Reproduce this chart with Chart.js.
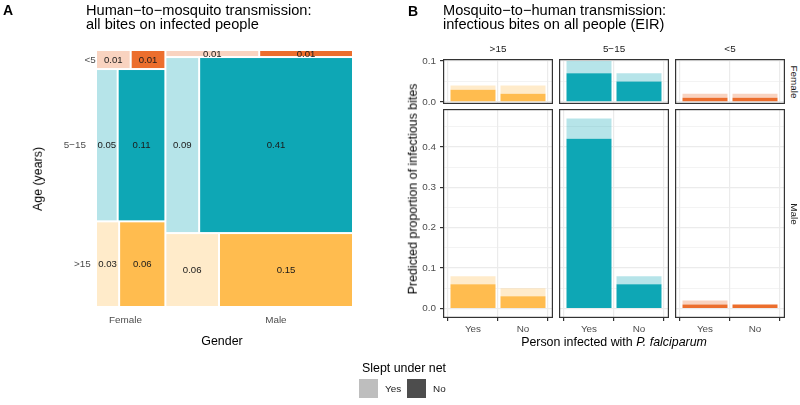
<!DOCTYPE html>
<html><head><meta charset="utf-8">
<script src="https://cdn.jsdelivr.net/npm/chart.js@4"></script>
<style>
html,body{margin:0;padding:0;background:#fff;}
#root{position:relative;width:800px;height:405px;overflow:hidden;font-family:"Liberation Sans",Arial,Helvetica,sans-serif;background:#fff;}
canvas{position:absolute;}
.t{position:absolute;white-space:nowrap;line-height:1;}
</style></head><body><div id="root"></div>
<script>
// ---------------- Data ----------------
// Panel A: share of all bites on infected people (gender x age x slept under net)
const genders = ['Female', 'Male'];
const agesA = ['<5', '5\u221215', '>15'];           // top to bottom
const femaleNetYes = [0.01, 0.05, 0.03];
const femaleNetNo  = [0.01, 0.11, 0.06];
const maleNetYes   = [0.01, 0.09, 0.06];
const maleNetNo    = [0.01, 0.41, 0.15];

// Panel B: predicted proportion of infectious bites (EIR)
const sexRows = ['Female', 'Male'];
const agesB = ['>15', '5\u221215', '<5'];
const infectedCats = ['Yes', 'No'];
// [age][infected]
const femaleNoNetB  = [[0.03, 0.02], [0.07, 0.05], [0.01, 0.01]];
const femaleYesNetB = [[0.01, 0.02], [0.03, 0.02], [0.01, 0.01]];
const maleNoNetB    = [[0.06, 0.03], [0.42, 0.06], [0.01, 0.01]];
const maleYesNetB   = [[0.02, 0.02], [0.05, 0.02], [0.01, 0.00]];

// ---------------- Styles ----------------
const FONT = '"Liberation Sans", Arial, Helvetica, sans-serif';
Chart.defaults.font.family = FONT;
const darkCol  = {'>15': '#FFBC4F', '5\u221215': '#0EA7B5', '<5': '#EC6E2D'};
const lightCol = {'>15': 'rgba(255,188,79,0.3)', '5\u221215': 'rgba(14,167,181,0.3)', '<5': 'rgba(236,110,45,0.3)'};
const root = document.getElementById('root');

function mkCanvas(x, y, w, h) {
  const c = document.createElement('canvas');
  c.width = w; c.height = h;
  c.style.left = x + 'px'; c.style.top = y + 'px';
  c.style.width = w + 'px'; c.style.height = h + 'px';
  root.appendChild(c);
  return c;
}
function txt(s, x, y, o) {
  o = o || {};
  const d = document.createElement('div');
  d.className = 't';
  d.innerHTML = s;
  d.style.left = x + 'px'; d.style.top = y + 'px';
  d.style.fontSize = (o.size || 12.4) + 'px';
  d.style.color = o.color || '#000';
  if (o.bold) d.style.fontWeight = 'bold';
  if (o.lh) d.style.lineHeight = o.lh + 'px';
  const ax = o.align === 'left' ? '0' : (o.align === 'right' ? '-100%' : '-50%');
  const ay = o.top ? '0' : '-50%';
  d.style.transform = 'translate(' + ax + ',' + ay + ')' + (o.rot ? ' rotate(' + o.rot + 'deg)' : '');
  root.appendChild(d);
  return d;
}
const sum = a => a.reduce((p, c) => p + c, 0);

// ---------------- Panel A (mosaic) ----------------
const genderLabelPos = [0.115, 0.70];       // x positions of gender labels (fraction of axis)
const ageLabelRight = [95.7, 86, 90.7];      // right edge of age labels (px)
const mosaicPlugin = {
  id: 'mosaic',
  afterDatasetsDraw(chart) {
    const {ctx, scales: {x, y}} = chart;
    const yes = [femaleNetYes, maleNetYes], no = [femaleNetNo, maleNetNo];
    const gTot = genders.map((g, i) => sum(yes[i]) + sum(no[i]));
    const all = sum(gTot);
    const tile = (x0, x1, y0, y1, col, v) => {
      const px0 = x.getPixelForValue(x0) + 1, px1 = x.getPixelForValue(x1) - 1;
      const py0 = y.getPixelForValue(y0) + 1, py1 = y.getPixelForValue(y1) - 1;
      ctx.fillStyle = col;
      ctx.fillRect(px0, py0, px1 - px0, py1 - py0);
      ctx.fillStyle = '#1A1A1A';
      ctx.font = '9.6px ' + FONT;
      ctx.textAlign = 'center'; ctx.textBaseline = 'middle';
      ctx.fillText(v.toFixed(2), (px0 + px1) / 2, (py0 + py1) / 2 + 0.5);
    };
    ctx.save();
    let gx0 = 0;
    genders.forEach((g, gi) => {
      const gx1 = gx0 + gTot[gi] / all;
      let ay0 = 0;
      agesA.forEach((a, ai) => {
        const t = yes[gi][ai] + no[gi][ai];
        const ay1 = ay0 + t / gTot[gi];
        const xm = gx0 + (gx1 - gx0) * yes[gi][ai] / t;
        tile(gx0, xm, ay0, ay1, lightCol[a], yes[gi][ai]);
        tile(xm, gx1, ay0, ay1, darkCol[a], no[gi][ai]);
        if (gi === 0) {
          ctx.fillStyle = '#4D4D4D';
          ctx.font = '9.9px ' + FONT;
          ctx.textAlign = 'right'; ctx.textBaseline = 'middle';
          ctx.fillText(a, ageLabelRight[ai], y.getPixelForValue((ay0 + ay1) / 2) + 0.5);
        }
        ay0 = ay1;
      });
      ctx.fillStyle = '#4D4D4D';
      ctx.font = '9.9px ' + FONT;
      ctx.textAlign = 'center'; ctx.textBaseline = 'middle';
      ctx.fillText(g, x.getPixelForValue(genderLabelPos[gi]), chart.chartArea.bottom + 13);
      gx0 = gx1;
    });
    ctx.restore();
  }
};
const cA = mkCanvas(0, 0, 390, 405);
new Chart(cA, {
  type: 'scatter',
  data: {datasets: []},
  options: {
    responsive: false, animation: false, events: [],
    layout: {padding: {left: 96, right: 37, top: 50, bottom: 98}, autoPadding: false},
    plugins: {legend: {display: false}, tooltip: {enabled: false}},
    scales: {
      x: {type: 'linear', min: 0, max: 1, display: false},
      y: {type: 'linear', min: 0, max: 1, reverse: true, display: false}
    }
  },
  plugins: [mosaicPlugin]
});

// ---------------- Panel B (facets) ----------------
const colLeft = [443, 559, 675], colW = 110;
const rowTop = [59, 109], rowH = [45, 209];
const yW = 45, xH = 25, padV = 8;
const isMajor = v => Math.abs(v * 10 - Math.round(v * 10)) < 1e-6;
const noPad = s => { s.paddingTop = 0; s.paddingBottom = 0; s.paddingLeft = 0; s.paddingRight = 0; };
const borderPlugin = {
  id: 'pborder',
  afterDatasetsDraw(chart) {
    const {ctx, chartArea: a} = chart;
    ctx.save();
    ctx.strokeStyle = '#333333'; ctx.lineWidth = 1.2;
    ctx.strokeRect(a.left + 0.6, a.top + 0.6, a.right - a.left - 1.2, a.bottom - a.top - 1.2);
    ctx.restore();
  }
};
sexRows.forEach((sex, ri) => {
  const noArr = ri === 0 ? femaleNoNetB : maleNoNetB;
  const yesArr = ri === 0 ? femaleYesNetB : maleYesNetB;
  const rowMax = Math.max(...noArr.flatMap((r, i) => r.map((v, j) => v + yesArr[i][j])));
  agesB.forEach((age, ci) => {
    const lw = ci === 0 ? yW : 0, bh = ri === 1 ? xH : 0;
    const padB = ri === 1 ? 0 : padV;
    const cv = mkCanvas(colLeft[ci] - lw, rowTop[ri] - padV, colW + lw, rowH[ri] + bh + padV + padB);
    new Chart(cv, {
      type: 'bar',
      data: {datasets: [
        {label: 'No', data: infectedCats.map((c, j) => ({x: j + 1, y: noArr[ci][j]})), backgroundColor: darkCol[age]},
        {label: 'Yes', data: infectedCats.map((c, j) => ({x: j + 1, y: yesArr[ci][j]})), backgroundColor: lightCol[age]}
      ]},
      options: {
        responsive: false, animation: false, events: [],
        layout: {padding: {top: padV, bottom: padB, left: 0, right: 0}, autoPadding: false},
        plugins: {legend: {display: false}, tooltip: {enabled: false}},
        datasets: {bar: {barPercentage: 0.9, categoryPercentage: 1, borderWidth: 0}},
        scales: {
          x: {
            type: 'linear', min: 0.4, max: 2.6, stacked: true, offset: false,
            afterBuildTicks: s => { s.ticks = infectedCats.map((c, j) => ({value: j + 1})); },
            afterFit: s => { s.height = bh; noPad(s); },
            ticks: {display: ri === 1, callback: v => infectedCats[Math.round(v) - 1],
                    font: {size: 9.9}, color: '#4D4D4D', padding: 2, autoSkip: false, maxRotation: 0},
            grid: {color: '#EBEBEB', lineWidth: 1.2, drawTicks: ri === 1, tickLength: 3,
                   tickColor: '#333333', tickWidth: 1.2},
            border: {display: false}
          },
          y: {
            type: 'linear', min: -0.05 * rowMax, max: 1.05 * rowMax, stacked: true,
            afterBuildTicks: s => {
              const t = [];
              for (let k = 0; k * 0.05 <= s.max + 1e-9; k++) t.push({value: +(k * 0.05).toFixed(2)});
              s.ticks = t;
            },
            afterFit: s => { s.width = lw; noPad(s); },
            ticks: {display: ci === 0, callback: v => isMajor(v) ? v.toFixed(1) : '',
                    font: {size: 9.9}, color: '#4D4D4D', padding: 4, autoSkip: false},
            grid: {color: '#EBEBEB', lineWidth: c => isMajor(c.tick.value) ? 1.2 : 0.6,
                   drawTicks: ci === 0, tickLength: 3,
                   tickColor: c => isMajor(c.tick.value) ? '#333333' : 'rgba(0,0,0,0)', tickWidth: 1.2},
            border: {display: false}
          }
        }
      },
      plugins: [borderPlugin]
    });
  });
});

// ---------------- Text ----------------
txt('A', 3, 3, {size: 14, bold: true, align: 'left', top: true});
txt('Human\u2212to\u2212mosquito transmission:<br>all bites on infected people', 86, 3, {size: 14.6, lh: 14.2, align: 'left', top: true});
txt('Age (years)', 37.5, 179, {rot: -90});
txt('Gender', 222, 341);

txt('B', 408, 4, {size: 14, bold: true, align: 'left', top: true});
txt('Mosquito\u2212to\u2212human transmission:<br>infectious bites on all people (EIR)', 443, 3, {size: 14.6, lh: 14.2, align: 'left', top: true});
agesB.forEach((a, ci) => txt(a, colLeft[ci] + colW / 2, 48.5, {size: 9.9, color: '#1A1A1A'}));
sexRows.forEach((s, ri) => txt(s, 794, rowTop[ri] + rowH[ri] / 2, {size: 9.9, color: '#1A1A1A', rot: 90}));
txt('Predicted proportion of infectious bites', 413, 189, {rot: -90});
txt('Person infected with <i>P. falciparum</i>', 614, 342);

// Legend
txt('Slept under net', 362, 368, {align: 'left'});
const key = (x, col) => { const d = document.createElement('div'); d.style.cssText = 'position:absolute;left:' + x + 'px;top:379px;width:19px;height:19px;background:' + col; root.appendChild(d); };
key(359, '#BEBEBE');
txt('Yes', 385, 389, {size: 9.9, align: 'left', color: '#1A1A1A'});
key(407, '#4D4D4D');
txt('No', 433, 389, {size: 9.9, align: 'left', color: '#1A1A1A'});
</script></body></html>
